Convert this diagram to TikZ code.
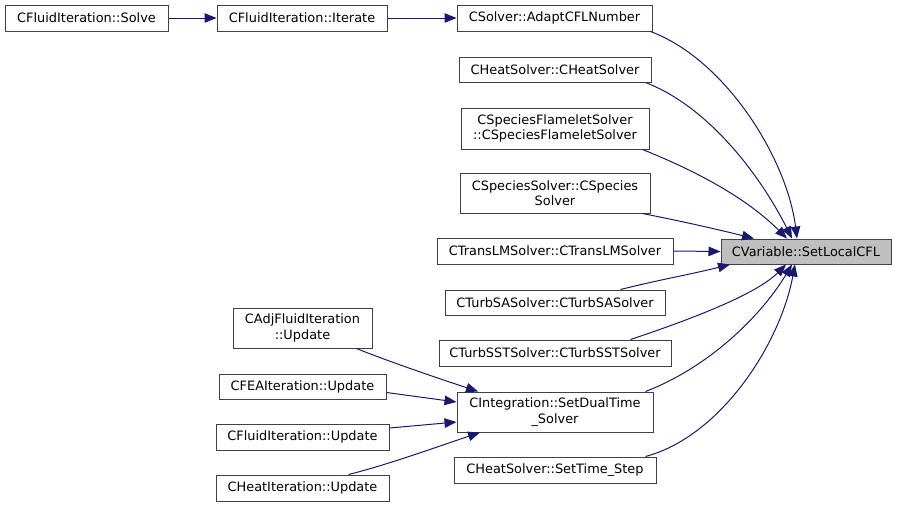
\documentclass[tikz,border=0pt]{standalone}
\usepackage{fontspec}
\setmainfont{DejaVu Sans}
\usetikzlibrary{arrows.meta}
\definecolor{bord}{HTML}{404040}
\definecolor{edgec}{HTML}{191970}
\definecolor{hl}{HTML}{BFBFBF}
\tikzset{
  fn/.style={draw=bord, line width=1pt, fill=white, inner sep=0pt, align=center,
    font=\fontsize{12.9}{15.5}\selectfont, minimum height=26pt},
  fn2/.style={fn, minimum height=40pt},
  call/.style={draw=edgec, line width=1pt, -{Triangle[length=12pt,width=9.5pt]}, fill=none},
}
\begin{document}
\begin{tikzpicture}[x=1pt,y=-1pt]
\useasboundingbox[fill=white] (0,0) rectangle (897,507);
% nodes
\node[fn, minimum width=163pt] (solve) at (86.5,18) {CFluidIteration::Solve};
\node[fn, minimum width=170pt] (iter) at (302,18) {CFluidIteration::Iterate};
\node[fn, minimum width=195pt] (adapt) at (554.5,18) {CSolver::AdaptCFLNumber};
\node[fn, minimum width=192pt, minimum height=25pt] (heat) at (555,69.5) {CHeatSolver::CHeatSolver};
\node[fn2, minimum width=188pt, minimum height=41pt] (flame) at (555,128.5) {CSpeciesFlameletSolver\\::CSpeciesFlameletSolver};
\node[fn2, minimum width=190pt] (spec) at (555,193) {CSpeciesSolver::CSpecies\\Solver};
\node[fn, minimum width=236pt] (trans) at (555,251) {CTransLMSolver::CTransLMSolver};
\node[fn, minimum width=170pt, minimum height=25pt, fill=hl] (cvar) at (806,251.5) {CVariable::SetLocalCFL};
\node[fn, minimum width=220pt, minimum height=25pt] (sa) at (555,302.5) {CTurbSASolver::CTurbSASolver};
\node[fn, minimum width=232pt] (sst) at (555,353) {CTurbSSTSolver::CTurbSSTSolver};
\node[fn2, minimum width=196pt] (integ) at (555,412) {CIntegration::SetDualTime\\\_Solver};
\node[fn, minimum width=202pt] (tstep) at (555,470) {CHeatSolver::SetTime\_Step};
\node[fn2, minimum width=139pt] (adj) at (302.5,328) {CAdjFluidIteration\\::Update};
\node[fn, minimum width=167pt, minimum height=25pt] (fea) at (302.5,386.5) {CFEAIteration::Update};
\node[fn, minimum width=173pt] (fupd) at (302.5,437) {CFluidIteration::Update};
\node[fn, minimum width=173pt] (hupd) at (302.5,488) {CHeatIteration::Update};
% edges
\draw[call] (solve.east) -- (iter.west);
\draw[call] (iter.east) -- (adapt.west);
\draw[call] (adapt.south east) ++(-2,0) .. controls +(75,28) and +(-10,-80) .. ([xshift=-9pt]cvar.north);
\draw[call] (heat.south east) ++(-6,0) .. controls +(65,25) and +(-30,-60) .. ([xshift=-14pt]cvar.north);
\draw[call] (flame.south east) ++(-7,0) .. controls +(55,22) and +(-40,-40) .. ([xshift=-19pt]cvar.north);
\draw[call] (spec.south east) ++(-8,0) .. controls +(40,8) and +(-40,-10) .. ([xshift=-52pt]cvar.north);
\draw[call] (trans.east) -- (cvar.west);
\draw[call] (sa.north east) ++(-45,0) .. controls +(40,-10) and +(-40,10) .. ([xshift=-76pt]cvar.south);
\draw[call] (sst.north east) ++(-41,0) .. controls +(60,-20) and +(-30,30) .. ([xshift=-20pt]cvar.south);
\draw[call] (integ.north east) ++(-8,0) .. controls +(65,-25) and +(-30,50) .. ([xshift=-14pt]cvar.south);
\draw[call] (tstep.north east) ++(-11,0) .. controls +(75,-20) and +(-15,80) .. ([xshift=-11pt]cvar.south);
\draw[call] (adj.south east) ++(-16,0) .. controls +(35,14) and +(-45,-15) .. ([xshift=-77pt]integ.north);
\draw[call] (fea.east) ++(0,6) -- (integ.west |- 0,402);
\draw[call] (fupd.east) ++(0,-9) -- (integ.west |- 0,422);
\draw[call] (hupd.north) ++(46,0) .. controls +(40,-10) and +(-45,15) .. ([xshift=-75pt]integ.south);
\end{tikzpicture}
\end{document}
